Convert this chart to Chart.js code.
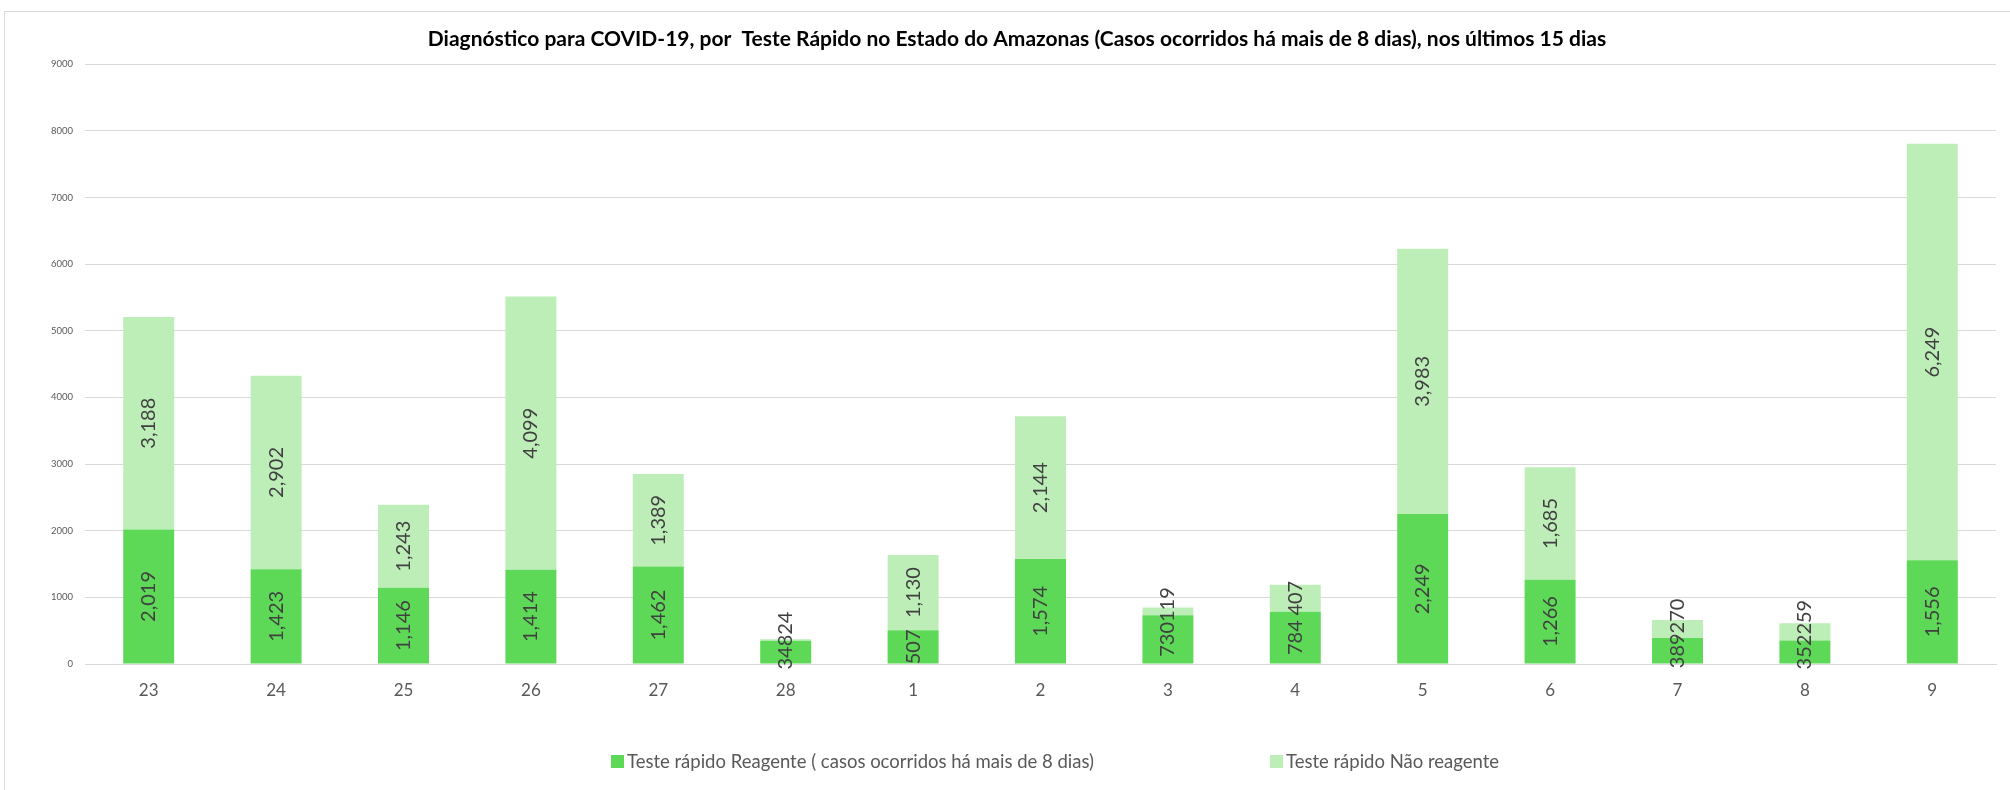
<!DOCTYPE html>
<html lang="pt-BR">
<head>
<meta charset="utf-8">
<title>Teste Rápido COVID-19 - Amazonas</title>
<script src="https://cdn.jsdelivr.net/npm/chart.js@4.4.1/dist/chart.umd.min.js"></script>
<style>
  html, body { margin: 0; padding: 0; background: #fff; }
  #wrap { position: relative; width: 2010px; height: 790px; overflow: hidden; }
  #frame { position: absolute; left: 4px; top: 11px; width: 2200px; height: 900px;
           border-left: 1px solid #d9d9d9; border-top: 1px solid #d9d9d9; }
  #chartBox { position: absolute; left: 0; top: 0; width: 2010px; height: 790px; }
  #legend { position: absolute; left: 0; top: 750px; width: 2010px; height: 24px;
            font-family: Lato, sans-serif; font-size: 18.5px; color: #595959; }
  .item { position: absolute; top: 0; display: flex; align-items: center; white-space: nowrap; }
  .box { width: 13px; height: 13px; margin-right: 3px; }
</style>
</head>
<body>
<div id="wrap">
  <div id="frame"></div>
  <div id="chartBox"><canvas id="chart" width="2010" height="790"></canvas></div>
  <div id="legend"></div>
</div>
<script>
const days = ['23', '24', '25', '26', '27', '28', '1', '2', '3', '4', '5', '6', '7', '8', '9'];
const reagente = [2019, 1423, 1146, 1414, 1462, 348, 507, 1574, 730, 784, 2249, 1266, 389, 352, 1556];
const naoReagente = [3188, 2902, 1243, 4099, 1389, 24, 1130, 2144, 119, 407, 3983, 1685, 270, 259, 6249];
const seriesNames = ['Teste rápido Reagente ( casos ocorridos há mais de 8 dias)', 'Teste rápido Não reagente'];
const seriesColors = ['#5dd957', '#bdeeb8'];
const yMax = 9000;
const yStep = 1000;

const fmt = v => v.toLocaleString('en-US');

// labels rotated inside each stacked segment, pushed up if they collide
const segmentLabels = {
  id: 'segmentLabels',
  afterDatasetsDraw(chart) {
    const ctx = chart.ctx;
    const low = chart.getDatasetMeta(0).data;
    const high = chart.getDatasetMeta(1).data;
    ctx.save();
    ctx.font = '20px Lato';
    ctx.fillStyle = '#404040';
    ctx.textAlign = 'center';
    ctx.textBaseline = 'middle';

    const draw = (text, x, y) => {
      ctx.save();
      ctx.translate(x, y);
      ctx.rotate(-Math.PI / 2);
      ctx.fillText(text, 0, 0);
      ctx.restore();
    };

    days.forEach((d, i) => {
      const a = low[i].getProps(['x', 'y', 'base'], true);
      const b = high[i].getProps(['x', 'y', 'base'], true);
      const t1 = fmt(reagente[i]);
      const t2 = fmt(naoReagente[i]);
      const w1 = ctx.measureText(t1).width;
      const w2 = ctx.measureText(t2).width;
      const c1 = (a.y + a.base) / 2;
      let c2 = (b.y + b.base) / 2;
      const top1 = c1 - w1 / 2;
      if (c2 + w2 / 2 > top1 + 2) {
        c2 = top1 - w2 / 2;
      }
      draw(t1, a.x, c1);
      draw(t2, b.x, c2);
    });
    ctx.restore();
  }
};

new Chart(document.getElementById('chart'), {
  type: 'bar',
  data: {
    labels: days,
    datasets: [
      { label: seriesNames[0], data: reagente, backgroundColor: seriesColors[0] },
      { label: seriesNames[1], data: naoReagente, backgroundColor: seriesColors[1] }
    ]
  },
  options: {
    responsive: false,
    animation: false,
    devicePixelRatio: 1,
    datasets: {
      bar: { categoryPercentage: 1, barPercentage: 0.4 }
    },
    layout: {
      padding: { left: 38, right: 14, top: 0, bottom: 84 }
    },
    plugins: {
      legend: { display: false },
      tooltip: { enabled: false },
      title: {
        display: true,
        text: 'Diagnóstico para COVID-19, por  Teste Rápido no Estado do Amazonas (Casos ocorridos há mais de 8 dias), nos últimos 15 dias',
        color: '#000',
        font: { family: 'Lato', size: 21, weight: 'bold', lineHeight: 1.2 },
        padding: { top: 27, bottom: 12 }
      }
    },
    scales: {
      x: {
        stacked: true,
        grid: { display: false, drawTicks: false },
        border: { display: true, color: '#d9d9d9', width: 1 },
        ticks: { color: '#595959', font: { family: 'Lato', size: 17 }, padding: 16 },
        afterFit(scale) { scale.height = 42; }
      },
      y: {
        stacked: true,
        min: 0,
        max: yMax,
        grid: { color: '#d9d9d9', lineWidth: 1, drawTicks: false },
        border: { display: false },
        ticks: {
          stepSize: yStep,
          color: '#595959',
          font: { family: 'Lato', size: 9.5 },
          padding: 12,
          callback: v => String(v)
        },
        afterFit(scale) { scale.width = 47; }
      }
    }
  },
  plugins: [segmentLabels]
});

// legend as html, placed like the original
const legend = document.getElementById('legend');
const legendLeft = [611, 1270];
seriesNames.forEach((name, i) => {
  const item = document.createElement('div');
  item.className = 'item';
  item.style.left = legendLeft[i] + 'px';
  item.innerHTML = '<span class="box" style="background:' + seriesColors[i] + '"></span><span>' + name + '</span>';
  legend.appendChild(item);
});
</script>
</body>
</html>
